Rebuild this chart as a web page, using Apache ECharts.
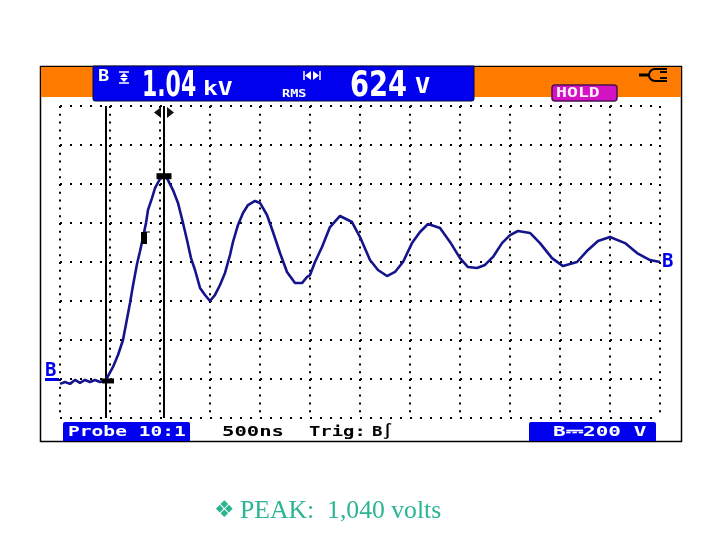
<!DOCTYPE html>
<html><head><meta charset="utf-8">
<style>html,body{margin:0;padding:0;background:#fff}#c{width:720px;height:540px}</style>
<script src="https://cdn.jsdelivr.net/npm/echarts@6/dist/echarts.min.js"></script>
</head><body><div id="c"></div>
<script>
const timesNs = [0,50,100,150,200,250,300,350,400,460,470,530,580,630,700,730,770,800,830,860,880,920,950,1000,1050,1080,1130,1180,1230,1270,1310,1350,1400,1450,1500,1550,1600,1650,1700,1730,1780,1830,1880,1950,2000,2070,2130,2200,2270,2350,2420,2470,2500,2550,2620,2700,2800,2920,3000,3100,3180,3270,3350,3430,3520,3600,3680,3800,3900,4000,4080,4170,4250,4330,4420,4500,4580,4700,4800,4920,5030,5170,5280,5380,5500,5650,5770,5900,6000];
const volts = [-25,-15,-25,-5,-20,-5,-15,-5,-15,-5,0,62,123,200,390,480,590,655,725,800,867,928,979,1026,1041,1020,969,903,800,713,620,559,467,431,400,431,482,544,636,703,790,851,892,913,903,841,754,646,549,492,492,523,533,600,677,779,836,805,728,610,559,528,549,600,697,754,795,774,703,620,574,569,585,626,697,738,759,749,697,620,579,600,662,708,728,697,646,610,600];
const cursorsNs = [460,1040];
const peakMark = [1040,1040];
const baseMark = [480,-10];
const riseMark = [840,723];
const readingMain = '1.04', readingMainUnit = 'kV', readingRms = '624', readingRmsUnit = 'V';
const labelProbe = 'Probe 10:1', labelTime = '500ns', labelTrig = 'Trig:', labelTrigCh = 'B\u222B', labelScale = 'B\u2393200 V', labelHold = 'HOLD', labelRms = 'RMS', labelCaption = 'PEAK:  1,040 volts', labelBullet = '\u2756', labelCh = 'B';

const W = '#fff', BLUE = '#0000ee', ORANGE = '#ff7b00', NAVY = '#14148c', TEAL = '#2bb592';
const mono = '"DejaVu Sans Mono"';
const rect = (x,y,w,h,fill,r) => ({type:'rect',shape:{x,y,width:w,height:h,r:r||0},style:{fill}});
const txt = (x,y,t,font,fill,sx,sy) => ({type:'text',x,y,scaleX:sx||1,scaleY:sy||1,style:{text:t,font,fill,textVerticalAlign:'middle'}});
const poly = (pts,fill) => ({type:'polygon',shape:{points:pts},style:{fill}});
const seg = (x1,y1,x2,y2,c,w) => ({type:'line',shape:{x1,y1,x2,y2},style:{stroke:c,lineWidth:w}});

const graphic = [
  {type:'rect',z:-10,shape:{x:40.5,y:66.5,width:641,height:375},style:{fill:'#fff',stroke:'#000',lineWidth:1.5}},
  rect(41,67,640,30,ORANGE),
  {type:'rect',shape:{x:93,y:66,width:381,height:35,r:[0,0,2,2]},style:{fill:BLUE,stroke:'#000a3c',lineWidth:1}},
  txt(98,77,labelCh,'bold 15px '+mono,W,1.25),
  seg(119,72,129,72,W,1.5),seg(119,83,129,83,W,1.5),
  poly([[124,73],[120,77],[128,77]],W),poly([[124,82],[120,78],[128,78]],W),
  txt(142,87,readingMain,'bold 36px "DejaVu Sans"',W,0.61,1),
  txt(203,90,readingMainUnit,'bold 19px '+mono,W,1.3,1),
  seg(304,71,304,80,W,1.5),seg(320,71,320,80,W,1.5),
  poly([[305,75.5],[311,71],[311,80]],W),poly([[319,75.5],[313,71],[313,80]],W),
  txt(282,94,labelRms,'bold 10px '+mono,W,1.35),
  txt(350,87,readingRms,'bold 36px "DejaVu Sans"',W,0.76,1),
  txt(415,87,readingRmsUnit,'bold 22px '+mono,W,1.15),
  {type:'rect',shape:{x:552,y:85,width:65,height:16,r:3},style:{fill:'#d414c4',stroke:'#4a1050',lineWidth:1.5}},
  txt(556,93,labelHold,'bold 14px '+mono,'#f4eef4',1.3),
  seg(639,75,650,75,'#000',3),
  {type:'arc',shape:{cx:655,cy:75,r:6,startAngle:Math.PI/2,endAngle:Math.PI*1.5},style:{stroke:'#000',lineWidth:2,fill:'none'}},
  seg(655,69,667,69,'#000',2),seg(655,81,667,81,'#000',2),seg(660,72,667,72,'#000',2),seg(660,78,667,78,'#000',2),
  poly([[154,112.5],[161,107],[161,118]],'#111'),poly([[174,112.5],[167,107],[167,118]],'#111'),
  seg(144,232,150,232,'#000',1),
  txt(45,371,labelCh,'bold 19px '+mono,BLUE),
  rect(45,378,14,3,BLUE),
  {type:'rect',shape:{x:63,y:422,width:127,height:19,r:[2,2,0,0]},style:{fill:BLUE}},
  txt(68,432.5,labelProbe,'bold 14.5px '+mono,W,1.35),
  txt(222,432.5,labelTime,'bold 14.5px '+mono,'#000',1.42),
  txt(309,432.5,labelTrig,'bold 14.5px '+mono,'#000',1.3),
  txt(372,432.5,labelTrigCh,'bold 14.5px '+mono,'#000',1.2),
  {type:'rect',shape:{x:529,y:422,width:127,height:19,r:[2,2,0,0]},style:{fill:BLUE}},
  txt(553,432.5,labelScale,'bold 14.5px '+mono,W,1.45),
  txt(214,511,labelBullet,'23px "DejaVu Sans"',TEAL),
  txt(240,511,labelCaption,'25.7px "Liberation Serif"',TEAL)
];

const chart = echarts.init(document.getElementById('c'),null,{renderer:'canvas'});
chart.setOption({
  animation:false,
  backgroundColor:'#fff',
  grid:{left:60,right:60,top:106,bottom:122},
  xAxis:{type:'value',min:0,max:6000,interval:500,
    axisLine:{show:false},axisTick:{show:false},axisLabel:{show:false},
    splitLine:{show:true,lineStyle:{color:'#000',width:2,type:[2,5.8]}}},
  yAxis:{type:'value',min:-200,max:1400,interval:200,
    axisLine:{show:false},axisTick:{show:false},axisLabel:{show:false},
    splitLine:{show:true,lineStyle:{color:'#000',width:2,type:[2,8]}}},
  graphic:{elements:graphic},
  series:[
    {type:'line',name:'Trace B',data:timesNs.map((t,i)=>[t,volts[i]]),showSymbol:false,smooth:false,z:5,
     lineStyle:{color:NAVY,width:2.6},
     endLabel:{show:true,formatter:labelCh,color:BLUE,fontFamily:'DejaVu Sans Mono',fontWeight:'bold',fontSize:19,distance:2},
     markLine:{silent:true,symbol:'none',label:{show:false},lineStyle:{color:'#000',width:2,type:'solid'},
       data:cursorsNs.map(x=>({xAxis:x}))}},
    {type:'scatter',name:'Peak marker',data:[peakMark],symbol:'rect',symbolSize:[15,6],itemStyle:{color:'#000',opacity:1},z:6},
    {type:'scatter',name:'Base marker',data:[baseMark],symbol:'rect',symbolSize:[12,5],itemStyle:{color:'#000',opacity:1},z:6},
    {type:'scatter',name:'Rise marker',data:[riseMark],symbol:'rect',symbolSize:[6,12],itemStyle:{color:'#000',opacity:1},z:6}
  ]
});
</script></body></html>
